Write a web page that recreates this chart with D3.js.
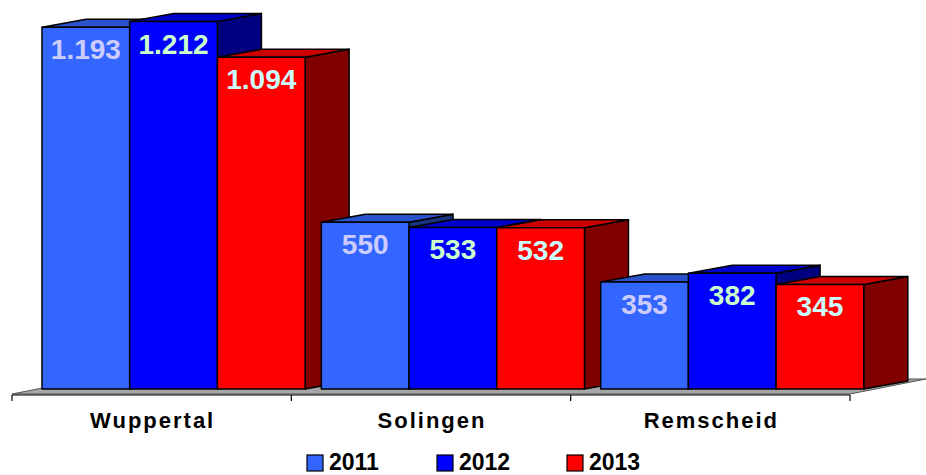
<!DOCTYPE html>
<html lang="de">
<head>
<meta charset="UTF-8">
<title>Wuppertal Solingen Remscheid</title>
<script src="https://cdn.jsdelivr.net/npm/d3@7"></script>
<style>
    body { margin: 0; background: #fff; }
    svg text { font-family: "Liberation Sans", Arial, sans-serif; font-weight: bold; }
</style>
</head>
<body>
<svg id="chart" width="926" height="475"></svg>
<script>
// data
var cities = ["Wuppertal", "Solingen", "Remscheid"];
var years = ["2011", "2012", "2013"];
var values2011 = [1193, 550, 353];
var values2012 = [1212, 533, 382];
var values2013 = [1094, 532, 345];

var series = [values2011, values2012, values2013];
var front = ["#3366FF", "#0000FF", "#FF0000"];
var top_ = ["#2952CC", "#0000CC", "#CC0000"];
var side = ["#1A3380", "#000080", "#800000"];
var labelCol = ["#CCCCFF", "#CCFFCC", "#CCFFFF"];

var svg = d3.select("#chart");

var floorY = 394;
var x0 = d3.scaleBand().domain(cities).range([12, 850]);
var x1 = d3.scaleBand().domain(years).range([0, x0.bandwidth() * 0.942]);
var y = d3.scaleLinear().domain([0, 1250]).range([389, 10]);

// 3d offsets
var ox = 30;          // bar front plane from floor front
var dx = 44, dy = -8; // bar depth
var fdx = 76, fdy = -15; // floor depth

function pts(a) { return a.map(function (p) { return p.join(","); }).join(" "); }

// floor
svg.append("polygon")
    .attr("points", pts([[12, floorY], [850, floorY], [850 + fdx, floorY + fdy], [12 + fdx, floorY + fdy]]))
    .attr("fill", "#a6a6a6")
    .attr("stroke", "#555")
    .attr("stroke-width", 1);

// axis line + ticks
svg.append("line")
    .attr("x1", 12).attr("x2", 850)
    .attr("y1", floorY + 1).attr("y2", floorY + 1)
    .attr("stroke", "#000").attr("stroke-width", 1.2);

var ticks = cities.map(function (c) { return x0(c); }).concat([x0.range()[1]]);
svg.selectAll(".tick").data(ticks).enter().append("line")
    .attr("x1", function (d) { return d; }).attr("x2", function (d) { return d; })
    .attr("y1", floorY + 1).attr("y2", floorY + 7)
    .attr("stroke", "#000").attr("stroke-width", 1.2);

// bars, left to right
var g = svg.append("g").attr("stroke", "#000").attr("stroke-width", 1.5).attr("stroke-linejoin", "round");
cities.forEach(function (c, ci) {
    years.forEach(function (yr, si) {
        var v = series[si][ci];
        var xl = x0(c) + ox + x1(yr);
        var xr = xl + x1.bandwidth();
        var yt = y(v), yb = y(0);
        // side
        g.append("polygon")
            .attr("points", pts([[xr, yt], [xr + dx, yt + dy], [xr + dx, yb + dy], [xr, yb]]))
            .attr("fill", side[si]);
        // top
        g.append("polygon")
            .attr("points", pts([[xl, yt], [xr, yt], [xr + dx, yt + dy], [xl + dx, yt + dy]]))
            .attr("fill", top_[si]);
        // front
        g.append("rect")
            .attr("x", xl).attr("y", yt)
            .attr("width", xr - xl).attr("height", yb - yt)
            .attr("fill", front[si]);
    });
});

// value labels
var fmt = d3.formatLocale({ decimal: ",", thousands: ".", grouping: [3], currency: ["", " €"] }).format(",d");
cities.forEach(function (c, ci) {
    years.forEach(function (yr, si) {
        var v = series[si][ci];
        svg.append("text")
            .attr("x", x0(c) + ox + x1(yr) + x1.bandwidth() / 2)
            .attr("y", y(v) + 32)
            .attr("text-anchor", "middle")
            .attr("font-size", 28)
            .attr("fill", labelCol[si])
            .text(fmt(v));
    });
});

// category labels
svg.selectAll(".cat").data(cities).enter().append("text")
    .attr("x", function (d) { return x0(d) + x0.bandwidth() / 2 + 1; })
    .attr("y", 428)
    .attr("text-anchor", "middle")
    .attr("font-size", 22)
    .attr("letter-spacing", 2)
    .attr("fill", "#000")
    .text(function (d) { return d; });

// legend
var leg = svg.selectAll(".leg").data(years).enter().append("g")
    .attr("transform", function (d, i) { return "translate(" + (307 + i * 130) + ",455)"; });
leg.append("rect")
    .attr("width", 16).attr("height", 16)
    .attr("fill", function (d, i) { return front[i]; })
    .attr("stroke", "#000").attr("stroke-width", 1.2);
leg.append("text")
    .attr("x", 22).attr("y", 15)
    .attr("font-size", 23)
    .attr("fill", "#000")
    .text(function (d) { return d; });
</script>
</body>
</html>
